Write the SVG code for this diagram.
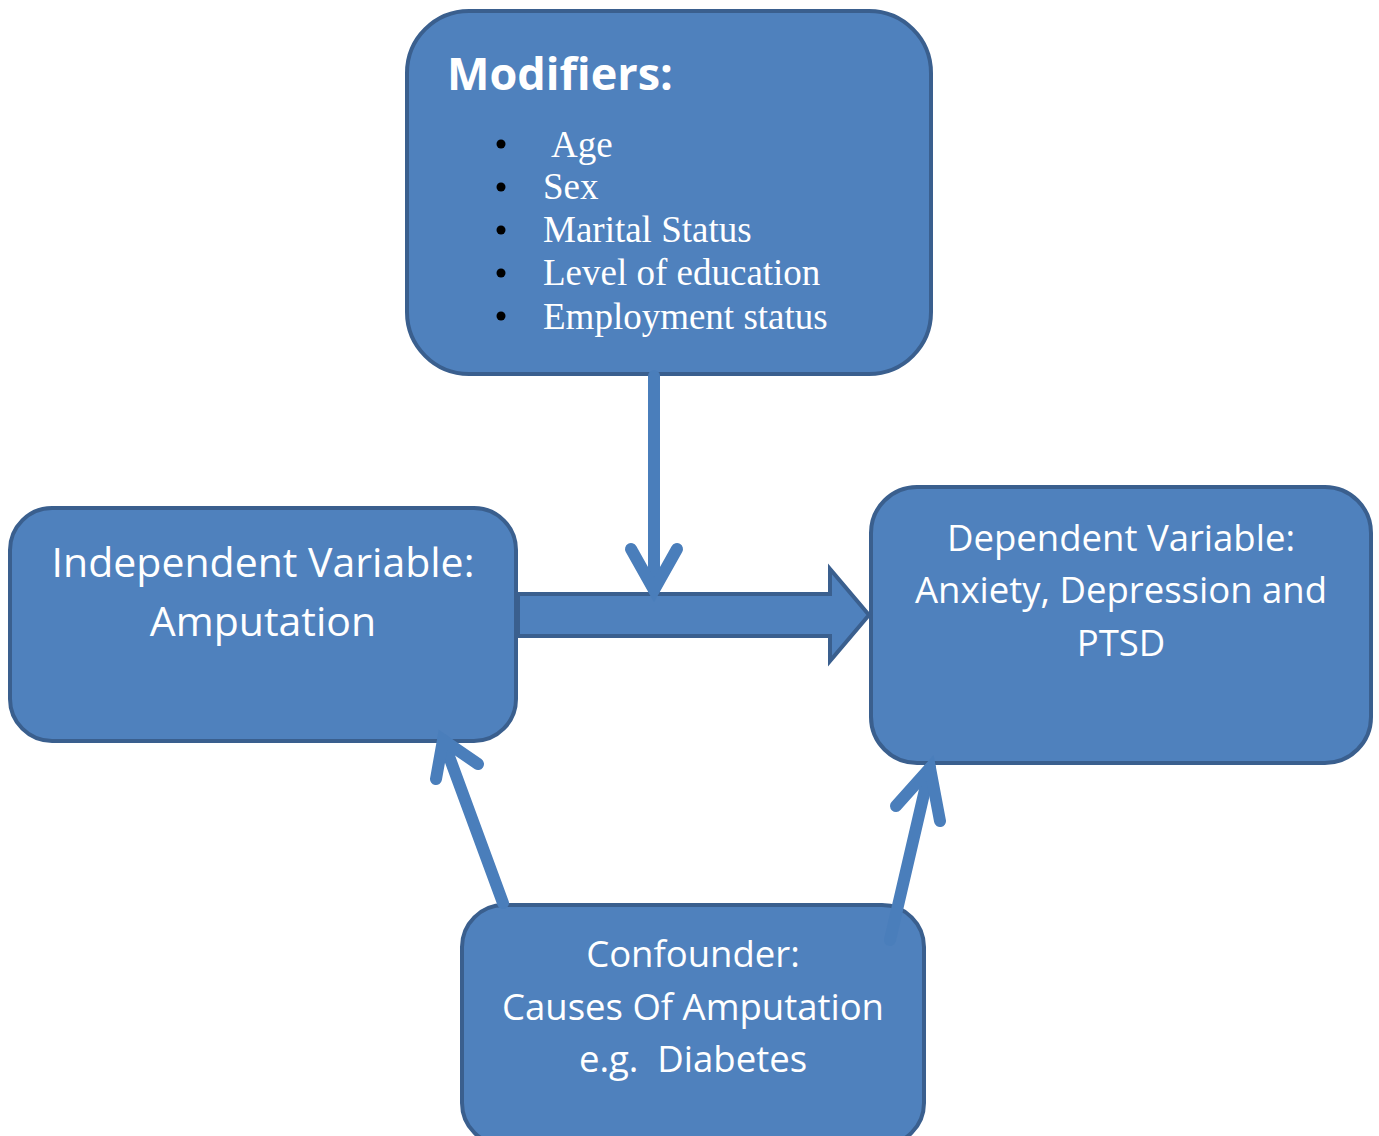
<svg xmlns="http://www.w3.org/2000/svg" width="1379" height="1136" viewBox="0 0 1379 1136">
<style>
.box{fill:#4f81bd;stroke:#3a5f8e;stroke-width:4}
.sans{font-family:"Open Sans","Liberation Sans",sans-serif;fill:#fff}
.serif{font-family:"Liberation Serif","Times New Roman",serif;fill:#fff;font-size:37px}
.conn{fill:none;stroke:#4a7ebb;stroke-width:12;stroke-linecap:round;stroke-linejoin:miter}
.dot{fill:#000}
</style>
<rect width="1379" height="1136" fill="#fff"/>
<g id="modifiers">
<rect class="box" x="407" y="11" width="524" height="363" rx="62"/>
<text class="sans" x="447" y="90" font-size="45" font-weight="bold">Modifiers:</text>
<circle class="dot" cx="501" cy="144" r="4.5"/>
<circle class="dot" cx="501" cy="187" r="4.5"/>
<circle class="dot" cx="501" cy="230" r="4.5"/>
<circle class="dot" cx="501" cy="273" r="4.5"/>
<circle class="dot" cx="501" cy="316" r="4.5"/>
<text class="serif" x="551" y="157">Age</text>
<text class="serif" x="543" y="199">Sex</text>
<text class="serif" x="543" y="242">Marital Status</text>
<text class="serif" x="543" y="285">Level of education</text>
<text class="serif" x="543" y="329">Employment status</text>
</g>
<g id="independent">
<rect class="box" x="10" y="508" width="506" height="233" rx="42"/>
<text class="sans" font-size="41" text-anchor="middle" x="263" y="577">Independent Variable:</text>
<text class="sans" font-size="41" text-anchor="middle" x="263" y="636">Amputation</text>
</g>
<g id="dependent">
<rect class="box" x="871" y="487" width="500" height="276" rx="46"/>
<text class="sans" font-size="36.5" text-anchor="middle" x="1121" y="551">Dependent Variable:</text>
<text class="sans" font-size="36.5" text-anchor="middle" x="1121" y="603">Anxiety, Depression and</text>
<text class="sans" font-size="36.5" text-anchor="middle" x="1121" y="656">PTSD</text>
</g>
<g id="confounder">
<rect class="box" x="462" y="905" width="462" height="240" rx="42"/>
<text class="sans" font-size="36.5" text-anchor="middle" x="693" y="967">Confounder:</text>
<text class="sans" font-size="36.5" text-anchor="middle" x="693" y="1020">Causes Of Amputation</text>
<text class="sans" font-size="36.5" text-anchor="middle" x="693" y="1072" xml:space="preserve">e.g.  Diabetes</text>
</g>
<g id="connectors">
<polygon points="518,594 830,594 830,569 869,615 830,661 830,636 518,636" fill="#4f81bd" stroke="#3a5f8e" stroke-width="4"/>
<line class="conn" x1="654" y1="376" x2="654" y2="590"/>
<polyline class="conn" points="631,549 654,590 677,549"/>
<line class="conn" x1="503" y1="903" x2="443" y2="740"/>
<polyline class="conn" points="436,779 443,740 478,764"/>
<line class="conn" x1="890" y1="940" x2="930" y2="768"/>
<polyline class="conn" points="896,806 930,768 940,821"/>
</g>
</svg>
